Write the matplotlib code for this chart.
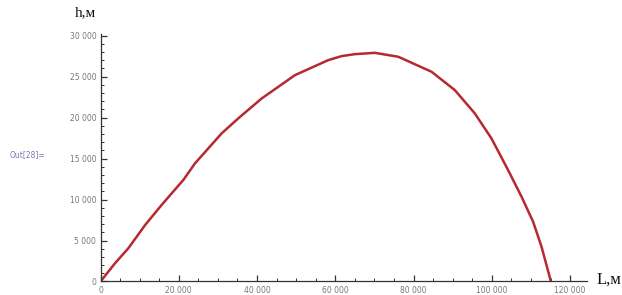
import matplotlib.pyplot as plt
from matplotlib.ticker import MultipleLocator, FuncFormatter

# trajectory: distance L (m) and height h (m)
dist = [0, 3700, 7100, 11400, 15600, 21150, 24150, 30950, 35200, 41200,
        49700, 58200, 61600, 65000, 70100, 76100, 84600, 90550, 95650,
        99900, 104150, 107600, 110550, 112700, 115100]
height = [0, 2220, 4050, 6890, 9330, 12380, 14420, 18070, 19900, 22340,
          25180, 27010, 27500, 27740, 27900, 27420, 25590, 23350, 20510,
          17460, 13600, 10340, 7290, 4240, 0]

x_ticks = [0, 20000, 40000, 60000, 80000, 100000, 120000]
y_ticks = [0, 5000, 10000, 15000, 20000, 25000, 30000]


def spaced(v, pos):
    # mathematica style thousands separator
    return '{:,}'.format(int(v)).replace(',', ' ')


fig = plt.figure(figsize=(6.22, 2.95), dpi=100)
ax = fig.add_axes([0.1616, 0.0458, 0.782, 0.839])
ax.plot(dist, height, color='#b8282f', lw=1.8, solid_capstyle='round',
        solid_joinstyle='round')

ax.set_xlim(0, 124300)
ax.set_ylim(0, 30200)
ax.set_xticks(x_ticks)
ax.set_yticks(y_ticks)
ax.xaxis.set_minor_locator(MultipleLocator(5000))
ax.yaxis.set_minor_locator(MultipleLocator(1000))
ax.xaxis.set_major_formatter(FuncFormatter(spaced))
ax.yaxis.set_major_formatter(FuncFormatter(spaced))
for s in ['top', 'right']:
    ax.spines[s].set_visible(False)
for s in ['left', 'bottom']:
    ax.spines[s].set_color('#333333')
    ax.spines[s].set_linewidth(0.9)
ax.tick_params(which='major', direction='in', length=4, width=0.9, color='#333333',
               labelsize=5.5, labelcolor='#777777', pad=3)
ax.tick_params(which='minor', direction='in', length=2, width=0.7, color='#333333')

fig.text(75 / 622, 1 - 13 / 295, 'h,м', family='Liberation Serif', fontsize=11,
         ha='left', va='center', color='#111111')
fig.text(597 / 622, 1 - 280 / 295, 'L,м', family='Liberation Serif', fontsize=12,
         ha='left', va='center', color='#111111')
fig.text(10 / 622, 1 - 155 / 295, 'Out[28]=', fontsize=5.5, color='#7878b8',
         ha='left', va='center')

plt.savefig('out.png', dpi=100)
